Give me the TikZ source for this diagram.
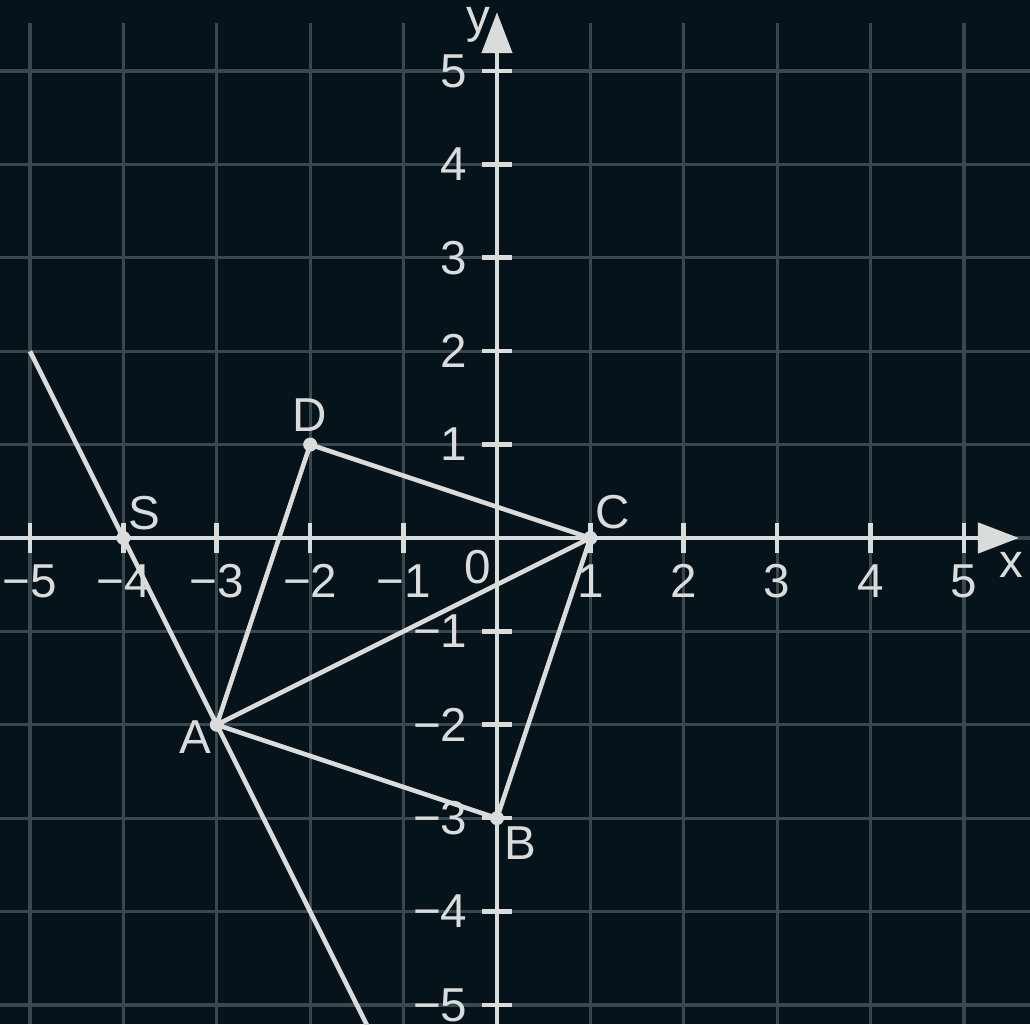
\documentclass[tikz,border=0pt]{standalone}
\usepackage{fontspec}
\setmainfont{Liberation Sans}
\usetikzlibrary{arrows.meta}
\definecolor{bgc}{HTML}{07131A}
\definecolor{gridc}{HTML}{38484D}
\definecolor{fgc}{HTML}{DADCDC}
\begin{document}
\begin{tikzpicture}[x=1cm,y=1cm,
  gridline/.style={draw=gridc, line width=1pt},
  axisline/.style={draw=fgc, line width=1.5pt},
  tickline/.style={draw=fgc, line width=1.4pt},
  seg/.style={draw=fgc, line width=1.4pt},
  lbl/.style={text=fgc, font=\fontsize{14.5}{16}\selectfont, inner sep=0pt},
  axtip/.style={-{Triangle[length=0.44cm,width=0.32cm]}}]
\fill[bgc] (-5.321,-5.204) rectangle (5.707,5.760);
\useasboundingbox (-5.321,-5.204) rectangle (5.707,5.760);
% grid
\foreach \x in {-5,...,5} \draw[gridline] (\x,-5.204) -- (\x,5.51);
\foreach \y in {-5,...,5} \draw[gridline] (-5.321,\y) -- (5.707,\y);
% axes
\coordinate (xs) at (-5.321,0);
\coordinate (xe) at (5.59,0);
\coordinate (ys) at (0,-5.204);
\coordinate (ye) at (0,5.63);
\draw[axisline,axtip] (xs) -- (xe);
\draw[axisline,axtip] (ys) -- (ye);
\foreach \t in {-5,...,-1,1,2,3,4,5} {
  \draw[tickline] (\t,-0.16) -- (\t,0.16);
  \draw[tickline] (-0.16,\t) -- (0.16,\t);
}
% axis labels
\foreach \t in {1,...,5} {
  \node[lbl] (xl\t) at (\t,-0.46) {\t};
  \node[lbl,anchor=east] (yl\t) at (-0.31,\t) {\t};
}
\foreach \t in {1,...,5} {
  \node[lbl] (xm\t) at (-\t,-0.46) {−\t};
  \node[lbl,anchor=east] (ym\t) at (-0.31,-\t) {−\t};
}
\node[lbl] (zero) at (-0.21,-0.31) {0};
\node[lbl] (xlab) at (5.51,-0.29) {x};
\node[lbl] (ylab) at (-0.2,5.49) {y};
% points
\coordinate (S) at (-4,0);
\coordinate (A) at (-3,-2);
\coordinate (B) at (0,-3);
\coordinate (C) at (1,0);
\coordinate (D) at (-2,1);
\coordinate (L1) at (-5,2);
\coordinate (L2) at (-1.35,-5.3);
% segments
\draw[seg] (L1) -- (L2);
\draw[seg] (A) -- (D) -- (C) -- (A) -- (B) -- (C);
% dots
\foreach \p in {S,A,B,C,D} \fill[fgc] (\p) circle (0.075);
% point labels
\node[lbl] (lA) at (-3.23,-2.13) {A};
\node[lbl] (lB) at (0.25,-3.27) {B};
\node[lbl] (lC) at (1.24,0.28) {C};
\node[lbl] (lD) at (-2.0,1.32) {D};
\node[lbl] (lS) at (-3.77,0.27) {S};
\end{tikzpicture}
\end{document}
